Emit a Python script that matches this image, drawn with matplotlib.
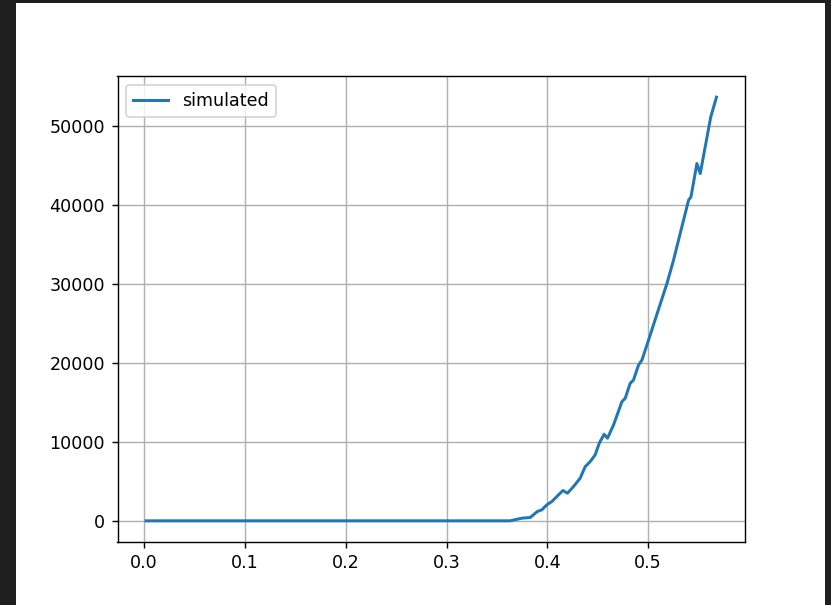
import matplotlib
matplotlib.use("Agg")
import matplotlib.pyplot as plt
from matplotlib.patches import Rectangle

# simulated growth curve
x = [0.002, 0.1, 0.2, 0.3, 0.35, 0.363, 0.375, 0.383, 0.390, 0.3945, 0.3995,
     0.4045, 0.4094, 0.4154, 0.4199, 0.4259, 0.4325, 0.4375, 0.4425, 0.4474,
     0.4491, 0.4517, 0.4563, 0.4596, 0.4656, 0.4739, 0.4772, 0.4821, 0.4854,
     0.4904, 0.4938, 0.5003, 0.5102, 0.5186, 0.5251, 0.5317, 0.5367, 0.5400,
     0.5424, 0.5483, 0.5516, 0.5565, 0.5620, 0.5677]
y = [0, 0, 0, 0, 0, 0, 340, 420, 1180, 1390, 2030,
     2450, 3080, 3840, 3500, 4340, 5400, 6870, 7510, 8360,
     8990, 9910, 10970, 10470, 12150, 15100, 15530, 17430, 17850,
     19750, 20380, 22900, 26800, 30090, 33040, 36420, 38950, 40640,
     41060, 45290, 44020, 47390, 51190, 53700]

dpi = 126.4
fig = plt.figure(figsize=(831 / dpi, 605 / dpi), dpi=dpi, facecolor="#1f1f1f")
# white canvas inside the dark frame
fig.patches.append(Rectangle((16 / 831, 0), 809 / 831, 602 / 605,
                             transform=fig.transFigure, facecolor="white",
                             edgecolor="none", zorder=-1))

ax = fig.add_axes([117.5 / 831, 1 - 542 / 605, 627.5 / 831, 466 / 605])
ax.plot(x, y, lw=1.7, label="simulated")
ax.grid(True)
ax.legend(loc="upper left")

fig.savefig("out.png", dpi=dpi, facecolor=fig.get_facecolor())
